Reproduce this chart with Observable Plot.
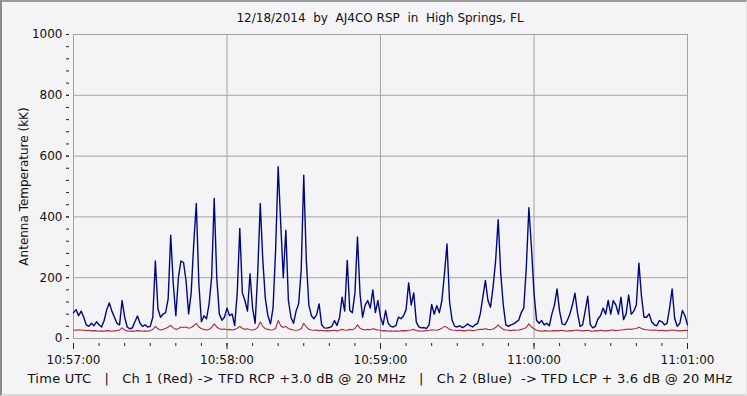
<!DOCTYPE html>
<html>
<head>
<meta charset="utf-8">
<script src="https://cdn.jsdelivr.net/npm/d3@7"></script>
<script src="https://cdn.jsdelivr.net/npm/@observablehq/plot@0.6"></script>
<style>
  html, body { margin: 0; padding: 0; background: #f4f4f6; }
  #wrap { position: relative; width: 747px; height: 396px; overflow: hidden; background: #f4f4f6; font-family: "DejaVu Sans", sans-serif; color: #111; }
  #title { position: absolute; left: 380px; top: 11px; transform: translateX(-50%); font-size: 12px; line-height: 14px; white-space: pre; }
  #chart { position: absolute; left: 0; top: 28px; }
  #caption { position: absolute; left: 380px; top: 370px; transform: translateX(-50%); font-size: 13px; letter-spacing: 0.25px; line-height: 18px; white-space: pre; }
  #border { position: absolute; left: 0; top: 0; width: 747px; height: 396px; box-sizing: border-box; border-top: 2px solid #9a9a9a; border-left: 2px solid #8a8a8a; border-bottom: 2px solid #d8d8d8; border-right: 1px solid #e4e4e4; pointer-events: none; }
</style>
</head>
<body>
<div id="wrap">
  <div id="title"></div>
  <div id="chart"></div>
  <div id="caption"></div>
  <div id="border"></div>
</div>
<script>
const titleText = "12/18/2014  by  AJ4CO RSP  in  High Springs, FL";
const captionText = "Time UTC   |   Ch 1 (Red) -> TFD RCP +3.0 dB @ 20 MHz   |   Ch 2 (Blue)  -> TFD LCP + 3.6 dB @ 20 MHz";
const yLabel = "Antenna Temperature (kK)";
const startTime = "2014-12-18T10:57:00Z";
const endTime = "2014-12-18T11:01:00Z";
const sampleSeconds = 1;
const yTicks = [0, 200, 400, 600, 800, 1000];

// Ch 2 (Blue) antenna temperature, kK, one sample per second from 10:57:00
const blueTemp = [
  85,95,75,90,70,45,40,50,42,55,
  45,38,60,95,117,90,70,50,45,125,
  70,38,32,35,55,74,50,40,45,38,
  40,70,255,98,70,80,85,130,340,180,
  75,200,255,250,190,81,150,312,444,180,
  55,75,65,114,202,461,200,81,60,70,
  100,75,81,43,150,362,150,125,90,213,
  100,50,213,444,257,130,75,48,100,290,
  565,378,200,356,125,70,50,90,114,224,
  537,257,110,75,65,78,114,45,35,34,
  36,40,59,43,70,136,90,257,92,85,
  150,334,147,70,110,125,100,160,85,125,
  70,45,92,50,40,38,42,70,65,75,
  95,183,110,150,54,38,35,36,33,45,
  112,80,108,85,125,213,311,120,60,40,
  38,42,36,40,48,42,38,45,50,81,
  136,191,125,103,169,256,391,213,110,45,
  40,45,48,54,60,85,100,235,430,300,
  150,60,50,59,45,50,42,81,110,163,
  90,48,45,59,80,110,149,85,40,45,
  90,139,45,35,40,65,75,100,80,125,
  80,125,110,80,136,62,81,143,80,90,
  110,248,140,70,70,81,55,45,42,59,
  55,45,50,100,163,65,40,50,92,75,
  45
];

// Ch 1 (Red) antenna temperature, kK, one sample per second from 10:57:00
const redTemp = [
  28,27,29,28,27,26,27,25,26,25,
  24,25,24,26,25,24,25,26,28,35,
  28,25,24,25,24,26,25,24,25,24,
  26,30,40,32,28,30,33,38,43,35,
  30,32,38,36,38,34,36,42,50,38,
  32,30,28,30,36,48,38,32,30,31,
  29,30,28,30,34,40,33,30,32,29,
  28,30,36,54,40,32,30,28,29,33,
  59,42,36,40,33,30,28,27,28,32,
  50,38,30,28,27,28,26,27,25,26,
  25,26,27,25,27,30,28,27,30,29,
  33,45,34,30,28,30,29,32,30,28,
  27,25,26,24,25,24,25,24,25,26,
  25,27,28,30,26,25,24,25,26,27,
  29,28,27,30,34,40,36,30,28,27,
  26,27,26,25,27,28,26,27,29,30,
  30,32,30,29,31,36,45,36,30,28,
  27,26,28,27,28,30,32,36,48,38,
  32,27,25,24,26,25,24,25,26,25,
  26,27,25,24,26,25,27,28,26,25,
  26,27,25,24,26,25,27,26,25,26,
  27,28,26,27,28,29,30,31,30,32,
  33,37,33,30,29,28,27,28,27,26,
  27,26,25,27,28,27,26,25,26,27,
  26
];

document.getElementById("title").textContent = titleText;
document.getElementById("caption").textContent = captionText;

const t0 = new Date(startTime);
const t1 = new Date(endTime);
const toRows = (arr) => arr.map((v, i) => ({time: new Date(t0.getTime() + i * sampleSeconds * 1000), value: v}));
const blueRows = toRows(blueTemp);
const redRows = toRows(redTemp);

const fmt = d3.utcFormat("%H:%M:%S");
const gridColor = "#a4a4a4";
const tEnd = new Date(t1.getTime() + 1);

const chart = Plot.plot({
  width: 747,
  height: 342,
  marginLeft: 73,
  marginRight: 60,
  marginTop: 6,
  marginBottom: 32,
  style: {background: "transparent", fontFamily: "DejaVu Sans, sans-serif", fontSize: "12px", color: "#111", overflow: "visible"},
  x: {type: "utc", domain: [t0, t1]},
  y: {domain: [0, 1000]},
  marks: [
    Plot.gridX(d3.utcMinute.range(t0, tEnd), {stroke: gridColor, strokeOpacity: 1}),
    Plot.gridY(yTicks, {stroke: gridColor, strokeOpacity: 1}),
    Plot.frame({stroke: gridColor}),
    Plot.line(redRows, {x: "time", y: "value", stroke: "#b02a3a", strokeWidth: 1.1}),
    Plot.line(blueRows, {x: "time", y: "value", stroke: "#00087f", strokeWidth: 1.4}),
    Plot.axisX(d3.utcSecond.every(10).range(t0, tEnd), {tickSize: 3, dy: 5, tickFormat: () => "", label: null, stroke: "#222"}),
    Plot.axisX(d3.utcMinute.range(t0, tEnd), {tickSize: 6, dy: 5, tickPadding: 6, tickFormat: fmt, label: null, stroke: "#222", fontSize: 12}),
    Plot.axisY(d3.range(0, 1001, 40), {tickSize: 3, dx: -4, tickFormat: () => "", label: null, stroke: "#222"}),
    Plot.axisY(yTicks, {tickSize: 3, dx: -4, tickPadding: 4, tickFormat: d3.format("d"), stroke: "#222", fontSize: 12, label: yLabel, labelAnchor: "center", labelArrow: "none", labelOffset: 54})
  ]
});
document.getElementById("chart").appendChild(chart);
</script>
</body>
</html>
